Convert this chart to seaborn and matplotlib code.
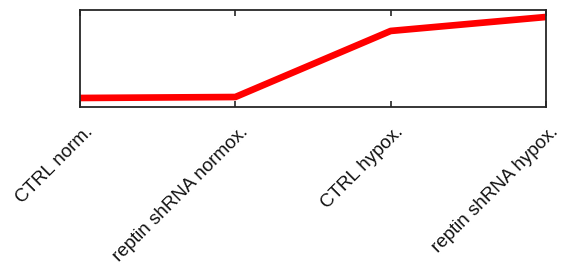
import matplotlib
matplotlib.use('Agg')
import matplotlib.pyplot as plt
import matplotlib.transforms as mtransforms
import seaborn as sns
import pandas as pd

# Data (arbitrary units, no y scale shown)
conditions = ['CTRL norm.', 'reptin shRNA normox.', 'CTRL hypox.', 'reptin shRNA hypox.']
values = [0.093, 0.103, 0.784, 0.928]

sns.set_style('ticks')
plt.rcParams['font.family'] = ['Liberation Sans', 'DejaVu Sans']

df = pd.DataFrame({'condition': conditions, 'value': values})

fig = plt.figure(figsize=(5.7, 2.75), dpi=100)
ax = fig.add_axes([80 / 570, (275 - 107) / 275, 466 / 570, 97 / 275])

sns.lineplot(data=df, x='condition', y='value', sort=False, color='#ff0000',
             linewidth=4.8, ax=ax, solid_capstyle='butt')

ax.set_xlim(0, 3)
ax.set_ylim(0, 1)
ax.set_xlabel('')
ax.set_ylabel('')
ax.set_yticks([])
ax.set_xticks(range(len(conditions)))
ax.set_xticklabels(conditions, rotation=45, ha='right', va='center',
                   rotation_mode='anchor', fontsize=13.5, color='#111111')
ax.tick_params(axis='x', direction='in', length=4, width=1.2, top=True,
               color='#262626', pad=4)

# nudge labels so they end just right of their tick, as in the original
offset = mtransforms.ScaledTranslation(10 / 100, -17 / 100, fig.dpi_scale_trans)
for lbl in ax.get_xticklabels():
    lbl.set_transform(lbl.get_transform() + offset)

for side in ['top', 'bottom', 'left', 'right']:
    ax.spines[side].set_visible(True)
    ax.spines[side].set_linewidth(1.3)
    ax.spines[side].set_color('#262626')

fig.savefig('out.png', dpi=100)
